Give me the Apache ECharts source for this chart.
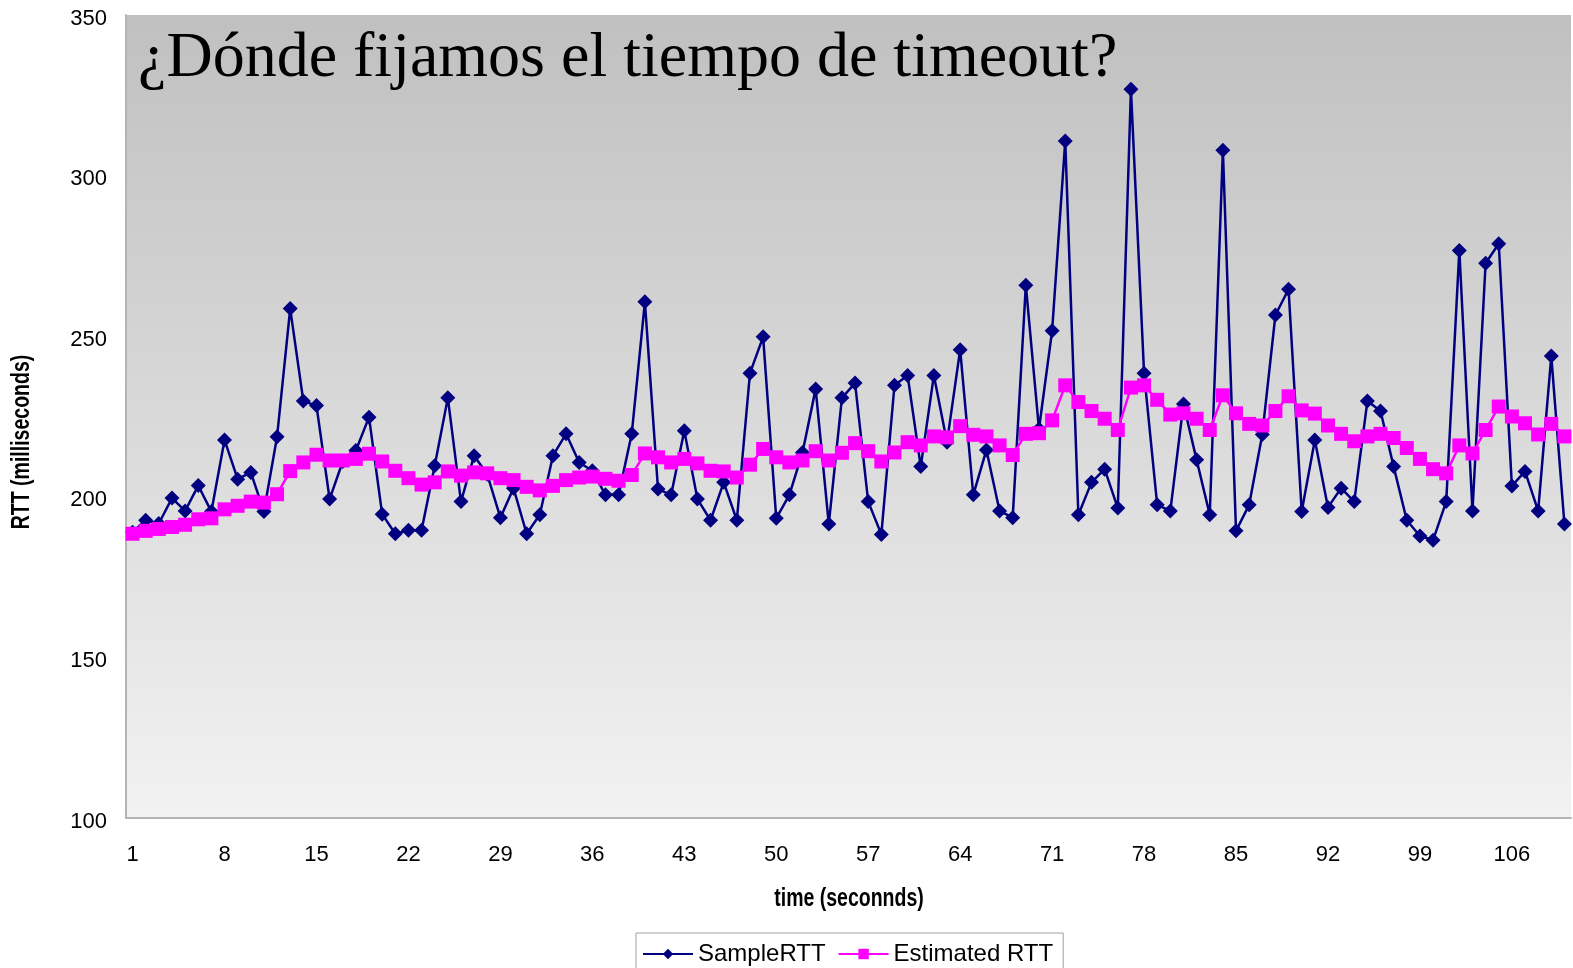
<!DOCTYPE html>
<html>
<head>
<meta charset="utf-8">
<script src="https://cdn.jsdelivr.net/npm/echarts@6/dist/echarts.min.js"></script>
<style>
html,body{margin:0;padding:0;background:#fff;}
#chart{width:1573px;height:968px;}
</style>
</head>
<body>
<div id="chart"></div>
<script>
const categories = Array.from({length: 110}, (_, i) => String(i + 1));
const sampleRTT = [
  189, 192.7, 191.7, 199.6, 195.6, 203.5, 195.4, 217.7, 205.5, 207.6,
  195.4, 218.7, 258.6, 229.8, 228.4, 199.3, 211, 214.4, 224.8, 194.6,
  188.5, 189.6, 189.6, 209.7, 230.8, 198.5, 212.8, 207, 193.5, 202.7,
  188.5, 194.4, 212.8, 219.6, 210.7, 208.1, 200.6, 200.6, 219.6, 260.7,
  202.4, 200.6, 220.6, 199.3, 192.7, 204.5, 192.7, 238.5, 249.8, 193.3,
  200.6, 213.8, 233.6, 191.5, 230.8, 235.4, 198.5, 188.3, 234.7, 237.8,
  209.4, 237.8, 217, 245.8, 200.6, 214.6, 195.6, 193.5, 265.9, 221.1,
  251.7, 310.8, 194.4, 204.5, 208.6, 196.5, 326.9, 238.5, 197.5, 195.6,
  228.9, 211.5, 194.4, 307.9, 189.4, 197.5, 219.4, 256.6, 264.6, 195.4,
  217.7, 196.7, 202.7, 198.5, 229.8, 226.7, 209.4, 192.7, 187.8, 186.5,
  198.5, 276.7, 195.6, 272.7, 278.8, 203.4, 207.9, 195.6, 243.8, 191.5
];
const estimatedRTT = [
  188.5, 189.4, 190, 190.6, 191.3, 193, 193.3, 196.1, 197.2, 198.5,
  198.2, 200.8, 208, 210.7, 213.1, 211.3, 211.3, 211.8, 213.4, 211,
  208.1, 205.8, 203.8, 204.5, 207.9, 206.6, 207.6, 207.3, 205.8, 205.2,
  203.1, 202, 203.4, 205.2, 206, 206.3, 205.6, 205, 206.8, 213.5,
  212.3, 210.7, 211.8, 210.4, 208.1, 207.9, 206, 210, 214.9, 212.3,
  210.7, 211.3, 214.2, 211.3, 213.7, 216.7, 214.2, 211, 213.8, 217,
  216, 218.8, 218.5, 222, 219.3, 218.8, 216, 213, 219.6, 219.8,
  223.8, 234.7, 229.5, 226.7, 224.3, 220.8, 234, 234.7, 230.2, 225.6,
  226, 224.3, 220.8, 231.6, 226, 222.7, 222.2, 226.7, 231.3, 226.9,
  225.9, 222.2, 219.6, 217.3, 218.8, 219.6, 218.3, 215.2, 211.8, 208.6,
  207.3, 216, 213.5, 220.8, 228.1, 225, 222.9, 219.4, 222.7, 218.8
];
const seriesNames = ['SampleRTT', 'Estimated RTT'];
const titleText = '¿Dónde fijamos el tiempo de timeout?';
const xAxisName = 'time (seconnds)';
const yAxisName = 'RTT (milliseconds)';

const nameFont = 'bold 25px "Liberation Sans", Arial, sans-serif';

const chart = echarts.init(document.getElementById('chart'), null, {renderer: 'canvas'});
chart.setOption({
  animation: false,
  backgroundColor: '#ffffff',
  title: {
    text: titleText,
    left: 133,
    top: 22,
    textStyle: {fontFamily: 'Liberation Serif', fontWeight: 'normal', fontSize: 64, color: '#000'}
  },
  graphic: [
    {
      type: 'text', x: 849, y: 899, scaleX: 0.78, silent: true,
      style: {text: xAxisName, font: nameFont, fill: '#000', textAlign: 'center', textVerticalAlign: 'middle'}
    },
    {
      type: 'text', x: 22, y: 442, rotation: Math.PI / 2, scaleX: 0.78, silent: true,
      style: {text: yAxisName, font: nameFont, fill: '#000', textAlign: 'center', textVerticalAlign: 'middle'}
    }
  ],
  grid: {
    left: 126, top: 15, right: 2, bottom: 150,
    show: true,
    borderWidth: 0,
    backgroundColor: {
      type: 'linear', x: 0, y: 0, x2: 0, y2: 1,
      colorStops: [{offset: 0, color: '#c0c0c0'}, {offset: 1, color: '#f2f2f2'}]
    }
  },
  legend: {
    data: seriesNames,
    left: 636,
    top: 933,
    padding: [9, 10, 10, 6],
    itemGap: 12,
    itemWidth: 50,
    itemHeight: 13,
    borderColor: '#a0a0a0',
    borderWidth: 1,
    textStyle: {fontFamily: 'Liberation Sans', fontSize: 24, color: '#000'}
  },
  xAxis: {
    type: 'category',
    data: categories,
    boundaryGap: true,
    axisLine: {show: true, lineStyle: {color: '#b4b4b4', width: 2}},
    axisTick: {show: false},
    axisLabel: {interval: 6, margin: 26, fontFamily: 'Liberation Sans', fontSize: 22, color: '#000'},
    splitLine: {show: false}
  },
  yAxis: {
    type: 'value',
    min: 100, max: 350, interval: 50,
    axisLine: {show: true, lineStyle: {color: '#b4b4b4', width: 2}},
    axisTick: {show: false},
    axisLabel: {
      margin: 19,
      verticalAlign: 'top',
      lineHeight: 7,
      fontFamily: 'Liberation Sans', fontSize: 22, color: '#000'
    },
    splitLine: {show: false}
  },
  series: [
    {
      name: seriesNames[0],
      type: 'line',
      data: sampleRTT,
      symbol: 'diamond',
      symbolSize: 15,
      showAllSymbol: true,
      lineStyle: {color: '#000080', width: 2.5},
      itemStyle: {color: '#000080'}
    },
    {
      name: seriesNames[1],
      type: 'line',
      data: estimatedRTT,
      symbol: 'rect',
      symbolSize: 14,
      showAllSymbol: true,
      lineStyle: {color: '#ff00ff', width: 2.5},
      itemStyle: {color: '#ff00ff'}
    }
  ]
});
</script>
</body>
</html>
